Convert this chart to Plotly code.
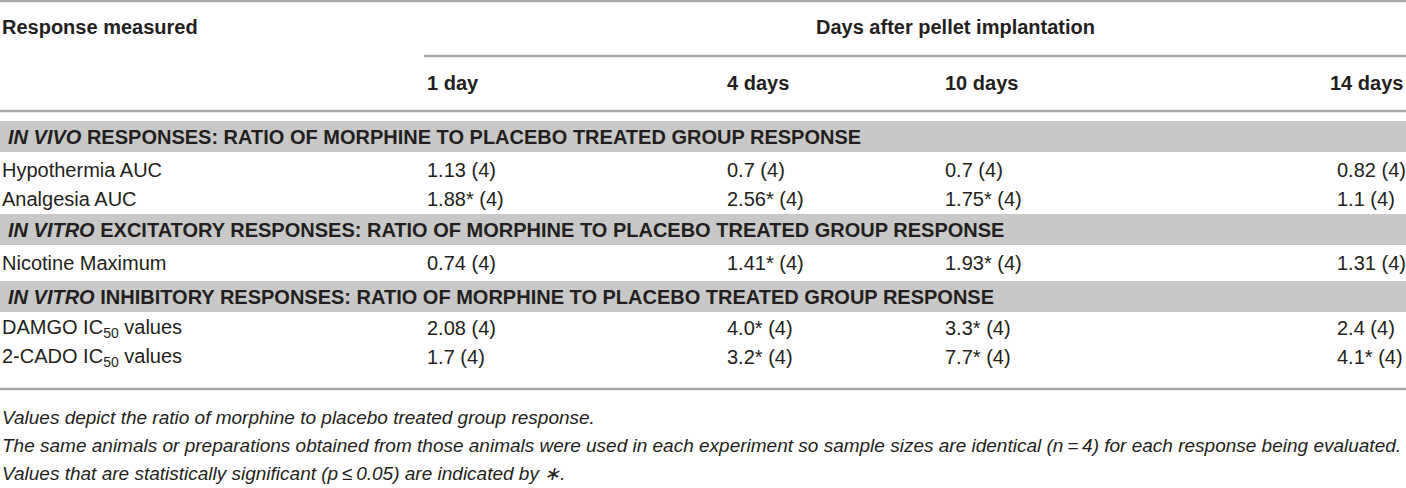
import plotly.graph_objects as go

# table data
days = ["1 day", "4 days", "10 days", "14 days"]
sections = [
    "<i>IN VIVO</i> RESPONSES: RATIO OF MORPHINE TO PLACEBO TREATED GROUP RESPONSE",
    "<i>IN VITRO</i> EXCITATORY RESPONSES: RATIO OF MORPHINE TO PLACEBO TREATED GROUP RESPONSE",
    "<i>IN VITRO</i> INHIBITORY RESPONSES: RATIO OF MORPHINE TO PLACEBO TREATED GROUP RESPONSE",
]
row_labels = ["Hypothermia AUC", "Analgesia AUC", "Nicotine Maximum",
              "DAMGO IC<sub>50</sub> values", "2-CADO IC<sub>50</sub> values"]

ratio_1day = ["1.13", "1.88", "0.74", "2.08", "1.7"]
ratio_4day = ["0.7", "2.56", "1.41", "4.0", "3.2"]
ratio_10day = ["0.7", "1.75", "1.93", "3.3", "7.7"]
ratio_14day = ["0.82", "1.1", "1.31", "2.4", "4.1"]
sig_1day = [False, True, False, False, False]
sig_4day = [False, True, True, True, True]
sig_10day = [False, True, True, True, True]
sig_14day = [False, False, False, False, True]
n_animals = [4, 4, 4, 4, 4]

footnotes = [
    "Values depict the ratio of morphine to placebo treated group response.",
    "The same animals or preparations obtained from those animals were used in each experiment so sample sizes are identical (n\u2009=\u20094) for each response being evaluated.",
    "Values that are statistically significant (p\u2009\u2264\u20090.05) are indicated by \u2217.",
]

# layout
W, H = 1406, 488
col_x = [425, 725, 943, 1335]
txt = "#231f20"
band = "#c8c8c8"
rule = "#a8a8a8"
fnt = "Liberation Sans, Arial, sans-serif"

fig = go.Figure()
shapes = []
ann = []


def hline(y, x0=0, x1=W):
    shapes.append(dict(type="line", x0=x0, x1=x1, y0=y, y1=y,
                       line=dict(color=rule, width=2.5), layer="below"))


def text(x, y, s, size=20, bold=False, anchor="left", color=txt):
    if bold:
        s = "<b>" + s + "</b>"
    ann.append(dict(x=x, y=y, text=s, showarrow=False, xanchor=anchor,
                    yanchor="middle", font=dict(size=size, color=color, family=fnt)))


hline(1)
text(0, 27, "Response measured", bold=True)
text(955, 27, "Days after pellet implantation", bold=True, anchor="center")
hline(56, x0=424)
for k, (x, d) in enumerate(zip(col_x, days)):
    if k == len(days) - 1:
        text(W - 1, 83, d, bold=True, anchor="right")  # last column header sits flush right
    else:
        text(x, 83, d, bold=True)
hline(111)

columns = [(ratio_1day, sig_1day), (ratio_4day, sig_4day),
           (ratio_10day, sig_10day), (ratio_14day, sig_14day)]

row_y = [170, 199, 263, 328, 357]
band_top = [121, 214, 281]
for k, title in enumerate(sections):
    shapes.append(dict(type="rect", x0=0, x1=W, y0=band_top[k], y1=band_top[k] + 31,
                       fillcolor=band, line=dict(width=0), layer="below"))
    text(6, band_top[k] + 16, title, bold=True)

for i, lab in enumerate(row_labels):
    y = row_y[i]
    text(0, y, lab)
    for x, (vals, sig) in zip(col_x, columns):
        s = vals[i] + ("*" if sig[i] else "") + " (%d)" % n_animals[i]
        text(x, y, s)

hline(389)
for j, f in enumerate(footnotes):
    text(0, 417 + 28 * j, "<i>" + f + "</i>", size=19)

fig.update_layout(
    width=W, height=H, margin=dict(l=0, r=0, t=0, b=0),
    plot_bgcolor="white", paper_bgcolor="white",
    xaxis=dict(range=[0, W], visible=False, fixedrange=True),
    yaxis=dict(range=[H, 0], visible=False, fixedrange=True),
    shapes=shapes, annotations=ann, showlegend=False,
)
fig.write_html("out.html", config={"displayModeBar": False},
               post_script="document.body.style.margin='0';document.body.style.overflow='hidden';")
